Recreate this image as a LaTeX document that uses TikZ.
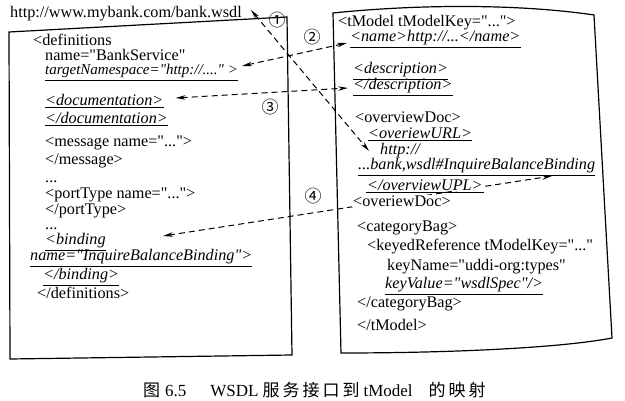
\documentclass[tikz,border=0pt]{standalone}
\usepackage{fontspec}
\setmainfont{Liberation Serif}[Ligatures=TeXOff]
\newfontfamily\cjk{Noto Sans CJK SC}
\usetikzlibrary{arrows.meta}
\pgfdeclarelayer{bg}
\pgfsetlayers{bg,main}

\tikzset{
  code/.style={anchor=west, inner sep=0pt, font=\fontsize{16.2}{18}\selectfont},
  codeit/.style={code, font=\fontsize{16.2}{18}\selectfont\itshape},
  mask/.style={fill=white, inner sep=1pt},
  map/.style={dash pattern=on 6pt off 4pt, line width=1pt,
    {Stealth[length=10pt,width=4.5pt]}-{Stealth[length=10pt,width=4.5pt]}},
  num/.style={inner sep=0pt, font=\cjk\fontsize{17}{17}\selectfont},
  ul/.style={line width=0.9pt},
  box/.style={line width=1.2pt},
}
\newcommand\gap{\hspace{3pt}}

\begin{document}
\begin{tikzpicture}[x=1pt,y=-1pt]
    \useasboundingbox (0,0) rectangle (625,401);

    % WSDL document
    \node[code] (url) at (10,14) {http://www.mybank.com/bank.wsdl};
    \draw[box] (9,32) -- (287,17) -- (292,355) -- (10,359) -- cycle;

    % tModel
    \draw[box] (333,13) .. controls (420,4) and (520,4) .. (594,15) -- (612,338)
    .. controls (560,348) and (450,353) .. (341,353) -- cycle;

    \node[code] (defs) at (33,40) {<definitions};
    \node[code] (dname) at (45,55) {name="BankService"};
    \node[codeit, font=\fontsize{15}{17}\selectfont\itshape] (tns) at (45,71) {targetNamespace="http://...." >};
    \node[codeit] (doc) at (45,100) {<documentation>};
    \node[codeit] (edoc) at (45,118) {</documentation>};
    \node[code] (msg) at (45,143) {<message name="...">};
    \node[code] (emsg) at (45,161) {</message>};
    \node[code] (dots1) at (45,182) {...};
    \node[code] (pt) at (45,195) {<portType name="...">};
    \node[code] (ept) at (45,211) {</portType>};
    \node[code] (dots2) at (45,229) {...};
    \node[codeit] (bind) at (45,241) {<binding};
    \node[codeit] (bname) at (30,257) {name="InquireBalanceBinding">};
    \node[codeit] (ebind) at (43,276) {</binding>};
    \node[code] (edefs) at (37,293) {</definitions>};

    \node[code] (tm) at (338,23) {<tModel tModelKey="...">};
    \node[codeit] (tname) at (350,38) {<name>http://...</name>};
    \node[codeit] (desc) at (353,70) {<description>};
    \node[codeit] (edesc) at (353,86) {</description>};
    \node[code] (ovd) at (355,117) {<overviewDoc>};
    \node[codeit] (ovu) at (368,133) {<overiewURL>};
    \node[codeit] (hp) at (380,151) {http://};
    \node[codeit] (bk) at (358,166) {...bank,wsdl\#InquireBalanceBinding};
    \node[codeit,mask] (eovu) at (366,185) {</overviewUPL>};
    \node[code,mask] (eovd) at (352,201) {<overiewDoc>};
    \node[code] (cb) at (357,228) {<categoryBag>};
    \node[code] (kr) at (367,247) {<keyedReference tModelKey="..."};
    \node[code] (kn) at (387,267) {keyName="uddi-org:types"};
    \node[codeit] (kv) at (385,285) {keyValue="wsdlSpec"/>};
    \node[code] (ecb) at (357,304) {</categoryBag>};
    \node[code] (etm) at (357,325) {</tModel>};

    \foreach \n in {tns,doc,edoc,bind,bname,ebind,tname,desc,edesc,ovu,bk,kv}
        \draw[ul] ([yshift=-2pt]\n.south west) -- ([yshift=-2pt]\n.south east);
    \draw[ul] ([yshift=-1pt]eovu.south west) -- ([yshift=-1pt]eovu.south east);

    % mapping arrows
    \coordinate (bindtip) at (163,236);
    \coordinate (urltip) at (552,176);
    \begin{pgfonlayer}{bg}
        \draw[map] ([xshift=9pt,yshift=4pt]url.east) -- ([xshift=-11pt]hp.west);
        \draw[map] ([xshift=4pt,yshift=5pt]tns.east) -- ([xshift=-3pt,yshift=-5pt]tname.west);
        \draw[map] ([xshift=12pt,yshift=2pt]doc.east) -- ([xshift=-5pt,yshift=-2pt]edesc.west);
        \draw[map] (bindtip) -- (urltip);
    \end{pgfonlayer}

    \node[num] (n1) at (277,20) {①};
    \node[num] (n2) at (312,37) {②};
    \node[num] (n3) at (270,107) {③};
    \node[num] (n4) at (313,196) {④};

    \node[anchor=west, inner sep=0pt] (cap) at (143,390) {\fontsize{17}{17}\selectfont
      \cjk 图\hspace{5pt}{\rmfamily 6.5}\hspace{24pt}{\rmfamily WSDL}\hspace{4pt}服\gap 务\gap 接\gap 口\gap 到\hspace{4pt}{\rmfamily tModel}\hspace{16pt}的\gap 映\gap 射};
\end{tikzpicture}
\end{document}
